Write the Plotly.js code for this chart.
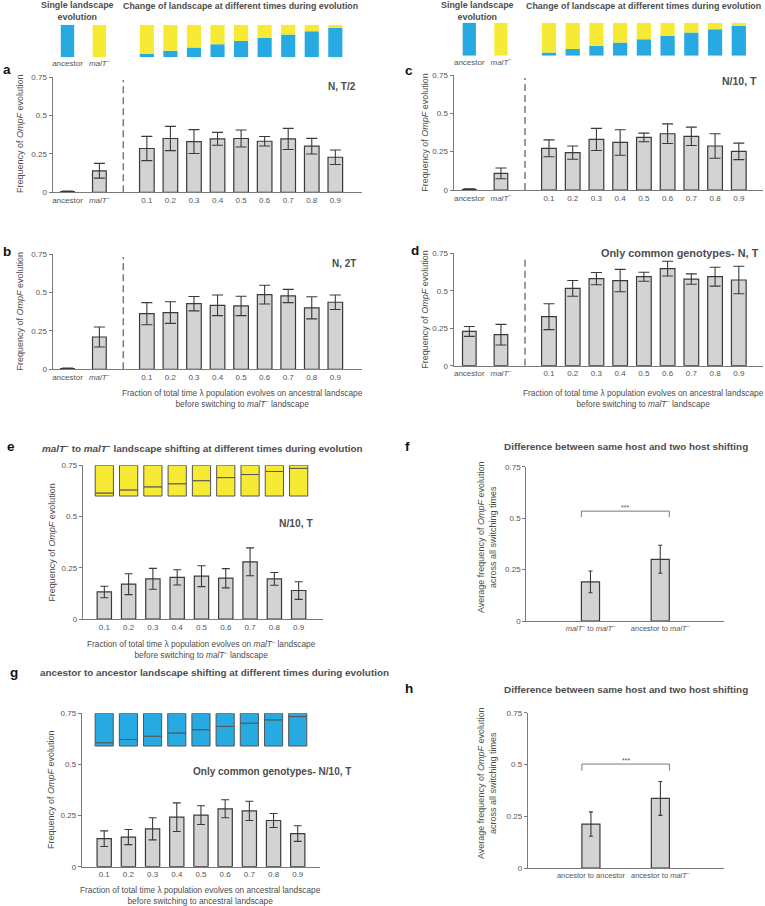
<!DOCTYPE html>
<html>
<head>
<meta charset="utf-8">
<script src="https://cdn.plot.ly/plotly-3.0.1.min.js"></script>
<style>
  html, body { margin: 0; padding: 0; background: #fff; }
  #chart { width: 765px; height: 906px; }
</style>
</head>
<body>
<div id="chart"></div>
<script>
// ── Data ─────────────────────────────────────────────────────────────────────

const singleCats = ["ancestor", "malT-"];
const singleBlue = [1, 0];                 // share of ancestral landscape in the icon
const switchCats = ["0.1", "0.2", "0.3", "0.4", "0.5", "0.6", "0.7", "0.8", "0.9"];
const switchFrac = [0.1, 0.2, 0.3, 0.4, 0.5, 0.6, 0.7, 0.8, 0.9];

// a — N, T/2
const aSingle = [0.004, 0.14];
const aSingleErr = [0.004, 0.048];
const aSwitch = [0.285, 0.35, 0.33, 0.348, 0.35, 0.332, 0.347, 0.30, 0.228];
const aSwitchErr = [0.079, 0.079, 0.078, 0.042, 0.055, 0.031, 0.069, 0.051, 0.047];

// b — N, 2T
const bSingle = [0.004, 0.21];
const bSingleErr = [0.004, 0.065];
const bSwitch = [0.362, 0.369, 0.427, 0.416, 0.412, 0.486, 0.477, 0.40, 0.436];
const bSwitchErr = [0.072, 0.07, 0.047, 0.067, 0.063, 0.061, 0.043, 0.072, 0.047];

// c — N/10, T
const cSingle = [0.004, 0.108];
const cSingleErr = [0.004, 0.035];
const cSwitch = [0.272, 0.244, 0.33, 0.31, 0.343, 0.367, 0.35, 0.287, 0.252];
const cSwitchErr = [0.055, 0.043, 0.072, 0.083, 0.028, 0.064, 0.06, 0.08, 0.054];

// d — only common genotypes, N, T
const dSingle = [0.229, 0.207];
const dSingleErr = [0.033, 0.069];
const dSwitch = [0.327, 0.516, 0.581, 0.568, 0.594, 0.648, 0.578, 0.594, 0.572];
const dSwitchErr = [0.086, 0.053, 0.041, 0.075, 0.03, 0.049, 0.035, 0.063, 0.092];

// e — malT- to malT- shifting, N/10, T
const eShift = [0.132, 0.17, 0.196, 0.203, 0.209, 0.199, 0.279, 0.196, 0.139];
const eShiftErr = [0.028, 0.051, 0.051, 0.037, 0.051, 0.047, 0.068, 0.031, 0.043];

// g — ancestor to ancestor shifting, only common genotypes, N/10, T
const gShift = [0.137, 0.145, 0.185, 0.242, 0.252, 0.283, 0.273, 0.226, 0.162];
const gShiftErr = [0.038, 0.037, 0.054, 0.07, 0.046, 0.044, 0.047, 0.034, 0.038];

// f / h — average over all switching times
const fCats = ["malT- to malT-", "ancestor to malT-"];
const fMean = [0.19, 0.30];
const fErr = [0.053, 0.068];
const hCats = ["ancestor to ancestor", "ancestor to malT-"];
const hMean = [0.212, 0.336];
const hErr = [0.059, 0.082];

// ── Helpers ──────────────────────────────────────────────────────────────────

const W = 765, H = 906;
const fx = p => p / W;
const fy = p => 1 - p / H;

const FONT = "Arial, 'Liberation Sans', sans-serif";
const TXT = "#4d4d4d";
const BLUE = "#27aae1";
const YELLOW = "#f7ea34";
const tickFont = { family: FONT, size: 8, color: "#555555" };

const MALT = "<i>malT</i><sup>–</sup>";
const fmtCat = c => c.replace(/malT-/g, MALT);

const traces = [];
const shapes = [];
const annotations = [];
const layout = {
  width: W,
  height: H,
  margin: { l: 0, r: 0, t: 0, b: 0 },
  paper_bgcolor: "#ffffff",
  plot_bgcolor: "rgba(0,0,0,0)",
  barmode: "overlay",
  showlegend: false,
  hovermode: false,
  font: { family: FONT, size: 8, color: TXT },
};

let nx = 0, ny = 0;
const axisKey = id => id[0] + "axis" + id.slice(1);

function addY(top, bottom, extra) {
  ny++;
  const id = "y" + (ny === 1 ? "" : ny);
  layout[axisKey(id)] = Object.assign({ domain: [fy(bottom), fy(top)], fixedrange: true }, extra);
  return id;
}

function addX(left, right, anchor, extra) {
  nx++;
  const id = "x" + (nx === 1 ? "" : nx);
  layout[axisKey(id)] = Object.assign({ domain: [fx(left), fx(right)], anchor, fixedrange: true }, extra);
  return id;
}

const yMainStyle = () => ({
  range: [0, 0.75],
  tickmode: "array",
  tickvals: [0, 0.25, 0.5, 0.75],
  ticktext: ["0", "0.25", "0.5", "0.75"],
  showline: true, linecolor: "#7a7a7a", linewidth: 1,
  ticks: "outside", ticklen: 3, tickcolor: "#7a7a7a",
  showgrid: false, zeroline: false,
  tickfont: tickFont,
});

const xStyle = (range, cats, font = tickFont) => ({
  type: "category",
  range,
  autorange: false,
  showline: true, linecolor: "#7a7a7a", linewidth: 1,
  ticks: "", showgrid: false, zeroline: false,
  tickmode: "array",
  tickvals: cats,
  ticktext: cats.map(fmtCat),
  tickangle: 0,
  tickfont: font,
});

function bar(cats, vals, errs, xa, ya, width, cap) {
  return {
    type: "bar", x: cats, y: vals, xaxis: xa, yaxis: ya, width,
    marker: { color: "#d3d3d3", line: { color: "#3a3a3a", width: 1.2 } },
    error_y: { type: "data", array: errs, visible: true, color: "#3a3a3a", thickness: 1.1, width: cap },
  };
}

function stack(cats, lower, base, span, xa, ya, width, cLow, cHigh, line) {
  const mk = c => ({ color: c, line: { color: "#555555", width: line } });
  traces.push({
    type: "bar", x: cats, y: lower.map(f => f * span), base: cats.map(() => base),
    xaxis: xa, yaxis: ya, width, marker: mk(cLow),
  });
  traces.push({
    type: "bar", x: cats, y: lower.map(f => (1 - f) * span), base: lower.map(f => base + f * span),
    xaxis: xa, yaxis: ya, width, marker: mk(cHigh),
  });
}

function note(text, x, y, o = {}) {
  annotations.push(Object.assign({
    text, x: fx(x), y: fy(y), xref: "paper", yref: "paper", showarrow: false,
    xanchor: "center", yanchor: "middle",
    font: { family: FONT, size: 8.3, color: TXT },
  }, o));
}

const bold = (size, color = TXT) => ({ font: { family: FONT, size, color } });
const yTitle = (text, x, y) => note(text, x, y, { textangle: -90, font: { family: FONT, size: 9, color: TXT } });

// ── Panels a–d: single landscape + switching time ────────────────────────────

function panelSwitch(p) {
  const y = addY(p.top, p.bottom, yMainStyle());
  const xL = addX(p.axisX, p.dashX, y, xStyle(p.leftRange, singleCats));
  const xR = addX(p.dashX, p.endX, y, xStyle(p.rightRange, switchCats));
  layout[axisKey(y)].anchor = xL;
  traces.push(bar(singleCats, p.single, p.singleErr, xL, y, 0.43, 5.5));
  traces.push(bar(switchCats, p.sw, p.swErr, xR, y, 0.62, 5.5));
  shapes.push({
    type: "line", xref: "paper", yref: y, x0: fx(p.dashX), x1: fx(p.dashX), y0: 0, y1: 0.73,
    line: { color: "#7a7a7a", width: 1.5, dash: "7px,4px" },
  });
}

function iconRow(p) {
  const y = addY(p.iconTop, p.iconBottom, { range: [0, 1], visible: false });
  const xL = addX(p.axisX, p.dashX, y, {
    type: "category", range: p.leftRange, autorange: false,
    showline: false, showgrid: false, zeroline: false, ticks: "", tickangle: 0,
    tickmode: "array", tickvals: singleCats, ticktext: singleCats.map(fmtCat), tickfont: tickFont,
  });
  const xR = addX(p.dashX, p.endX, y, { type: "category", range: p.rightRange, autorange: false, visible: false });
  layout[axisKey(y)].anchor = xL;
  stack(singleCats, singleBlue, 0, 1, xL, y, 0.42, BLUE, YELLOW, 0);
  stack(switchCats, switchFrac, 0, 1, xR, y, 0.6, BLUE, YELLOW, 0);
}

const leftGeo = { axisX: 52.5, dashX: 123.3, endX: 361.7, leftRange: [-0.47, 1.75], rightRange: [-1.0, 9.12] };
const rightGeo = { axisX: 453.5, dashX: 525, endX: 763, leftRange: [-0.5, 1.76], rightRange: [-1.01, 9.02] };

panelSwitch({ ...leftGeo, top: 77, bottom: 192.3, single: aSingle, singleErr: aSingleErr, sw: aSwitch, swErr: aSwitchErr });
panelSwitch({ ...leftGeo, top: 254, bottom: 369.3, single: bSingle, singleErr: bSingleErr, sw: bSwitch, swErr: bSwitchErr });
panelSwitch({ ...rightGeo, top: 75, bottom: 190, single: cSingle, singleErr: cSingleErr, sw: cSwitch, swErr: cSwitchErr });
panelSwitch({ ...rightGeo, top: 253.3, bottom: 365.7, single: dSingle, singleErr: dSingleErr, sw: dSwitch, swErr: dSwitchErr });
iconRow({ ...leftGeo, iconTop: 24.7, iconBottom: 57.3 });
iconRow({ ...rightGeo, iconTop: 22.7, iconBottom: 55.7 });

// ── Panels e, g: same landscape shifting ─────────────────────────────────────

function panelShift(p) {
  const y = addY(p.top, p.bottom, yMainStyle());
  const x = addX(p.axisX, p.endX, y, xStyle(p.range, switchCats));
  layout[axisKey(y)].anchor = x;
  traces.push(bar(switchCats, p.vals, p.errs, x, y, 0.59, 4));
  stack(switchCats, switchFrac, p.iconBase, p.iconSpan, x, y, 0.75, p.color, p.color, 1);
}

panelShift({ top: 465.3, bottom: 619, axisX: 82.7, endX: 322.7, range: [-0.89, 8.99],
  vals: eShift, errs: eShiftErr, color: YELLOW, iconBase: 0.6, iconSpan: 0.15 });
panelShift({ top: 713.3, bottom: 866.7, axisX: 81.7, endX: 320, range: [-0.93, 8.92],
  vals: gShift, errs: gShiftErr, color: BLUE, iconBase: 0.59, iconSpan: 0.16 });

// ── Panels f, h: average over switching times ────────────────────────────────

function panelHost(p) {
  const y = addY(p.top, p.bottom, yMainStyle());
  const x = addX(p.axisX, p.endX, y, xStyle(p.range, p.cats, { ...tickFont, size: 7.5 }));
  layout[axisKey(y)].anchor = x;
  traces.push(bar(p.cats, p.vals, p.errs, x, y, 0.26, 2));
  shapes.push({
    type: "path", xref: x, yref: y,
    path: `M -0.13,${p.brLow} L -0.13,${p.brHigh} L 1.13,${p.brHigh} L 1.13,${p.brLow}`,
    line: { color: "#7a7a7a", width: 1 },
  });
  annotations.push({
    text: "***", xref: x, yref: y, x: 0.5, y: p.brHigh + 0.018, showarrow: false,
    font: { family: FONT, size: 7, color: "#555555" },
  });
}

panelHost({ top: 466.7, bottom: 621, axisX: 526.3, endX: 723.7, range: [-0.92, 1.91],
  cats: fCats, vals: fMean, errs: fErr, brLow: 0.505, brHigh: 0.534 });
panelHost({ top: 712.7, bottom: 868, axisX: 527.7, endX: 724.3, range: [-0.91, 1.92],
  cats: hCats, vals: hMean, errs: hErr, brLow: 0.47, brHigh: 0.502 });

// ── Text ─────────────────────────────────────────────────────────────────────

// panel letters
[["a", 1, 69], ["b", 1, 252], ["c", 403, 71], ["d", 409, 251],
 ["e", 5, 446], ["f", 403, 446], ["g", 8, 672], ["h", 403, 688]]
  .forEach(([t, x, y]) => note(`<b>${t}</b>`, x, y, { xanchor: "left", ...bold(13.5, "#111111") }));

// top row headers
note("<b>Single landscape<br>evolution</b>", 77.7, 11, bold(8.9));
note("<b>Change of landscape at different times during evolution</b>", 240, 6.5, bold(8.9));
note("<b>Single landscape<br>evolution</b>", 477, 10.5, bold(8.9));
note("<b>Change of landscape at different times during evolution</b>", 643.7, 6.2, bold(8.9));

// condition labels
note("<b>N, T/2</b>", 358, 86, { xanchor: "right", ...bold(10) });
note("<b>N, 2T</b>", 358, 263, { xanchor: "right", ...bold(10) });
note("<b>N/10, T</b>", 759, 81, { xanchor: "right", ...bold(10.5) });
note("<b>Only common genotypes- N, T</b>", 761, 253, { xanchor: "right", ...bold(10.9) });
note("<b>N/10, T</b>", 315, 523, { xanchor: "right", ...bold(10.3) });
note("<b>Only common genotypes- N/10, T</b>", 272, 771, bold(10));

// panel titles
note(`<b>${MALT} to ${MALT} landscape shifting at different times during evolution</b>`, 202, 448, bold(9.9));
note("<b>Difference between same host and two host shifting</b>", 625.7, 447, bold(9.9));
note("<b>ancestor to ancestor landscape shifting at different times during evolution</b>", 214, 672.5, bold(9.9));
note("<b>Difference between same host and two host shifting</b>", 625.7, 689, bold(9.9));

// x titles
const xTitleAnc = `Fraction of total time λ population evolves on ancestral landscape<br>before switching to ${MALT} landscape`;
note(xTitleAnc, 242, 398.5);
note(xTitleAnc, 643.5, 398.5);
note(`Fraction of total time λ population evolves on ${MALT} landscape<br>before switching to ${MALT} landscape`, 201.7, 649);
note("Fraction of total time λ population evolves on ancestral landscape<br>before switching to ancestral landscape", 200, 895.5);

// y titles
const yFreq = "Frequency of <i>OmpF</i> evolution";
yTitle(yFreq, 20, 134);
yTitle(yFreq, 20, 311.5);
yTitle(yFreq, 424.7, 132);
yTitle(yFreq, 424.7, 309);
yTitle(yFreq, 51.7, 542);
yTitle(yFreq, 51, 790);
const yAvg = "Average frequency of <i>OmpF</i> evolution<br>across all switching times";
yTitle(yAvg, 487, 537);
yTitle(yAvg, 487, 783);

layout.shapes = shapes;
layout.annotations = annotations;

Plotly.newPlot("chart", traces, layout, { displayModeBar: false, staticPlot: true });
</script>
</body>
</html>
